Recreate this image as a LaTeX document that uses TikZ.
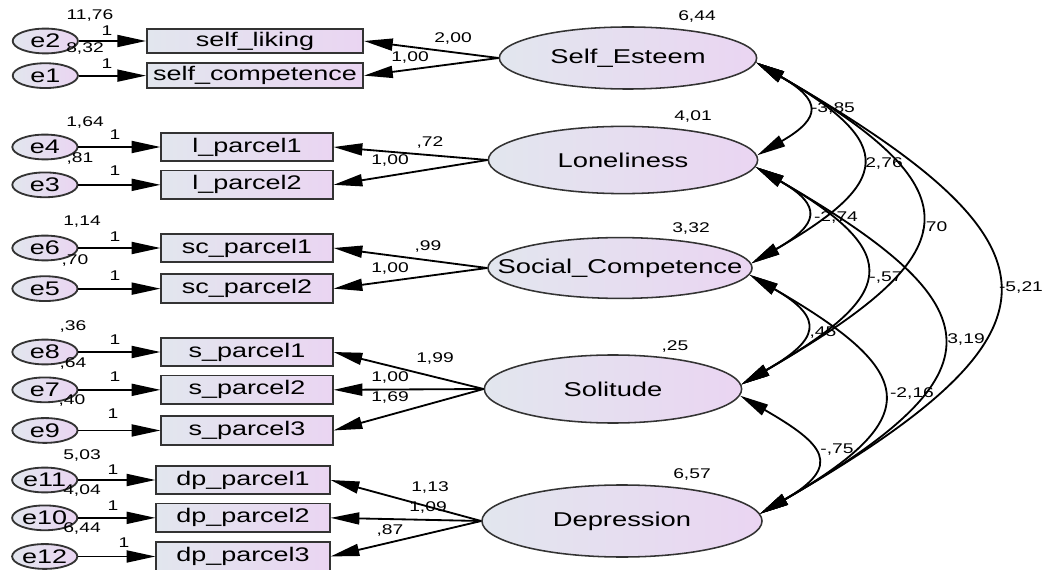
\documentclass[tikz,border=0pt]{standalone}
\usepackage{fontspec}
\setmainfont{Liberation Sans}[FakeStretch=1.37]
\usetikzlibrary{shapes.geometric, arrows.meta, positioning}
\definecolor{fillL}{RGB}{226,230,238}
\definecolor{fillR}{RGB}{234,213,242}

\begin{document}
\begin{tikzpicture}[
    x=0.025cm, y=0.025cm,
    >={Triangle[length=0.72cm, width=0.3cm]},
    box/.style={rectangle, draw=black!80, line width=1.3pt, left color=fillL, right color=fillR, minimum width=4.28cm, minimum height=0.72cm, inner sep=0pt, font=\fontsize{14}{16}\selectfont},
    err/.style={ellipse, draw=black!80, line width=1.3pt, left color=fillL, right color=fillR, minimum width=1.63cm, minimum height=0.62cm, inner sep=0pt, font=\fontsize{14}{16}\selectfont},
    latent/.style={ellipse, draw=black!80, line width=1.1pt, left color=fillL, right color=fillR, minimum width=6.5cm, minimum height=1.6cm, inner sep=0pt},
    lattext/.style={font=\fontsize{14.2}{16}\selectfont},
    num/.style={font=\fontsize{10}{12}\selectfont, inner sep=0pt},
    arrow/.style={->, line width=1.3pt},
    cov/.style={<->, line width=1.3pt, out=-30, in=30, looseness=2.07}
]

\fill[white] (0,0) rectangle (1046,-570);
\useasboundingbox (0,0) rectangle (1046,-570);

\node[latent, minimum width=6.43cm, minimum height=1.55cm, label={[lattext]center:Self\_Esteem}] (SE) at (628,-58) {};
\node[latent, minimum width=6.73cm, minimum height=1.68cm, label={[lattext]center:Loneliness}] (Lon) at (623,-160) {};
\node[latent, minimum width=6.6cm, minimum height=1.52cm, label={[lattext]center:Social\_Competence}] (SC) at (620,-268) {};
\node[latent, minimum width=6.43cm, minimum height=1.7cm, label={[lattext]center:Solitude}] (Sol) at (613,-389) {};
\node[latent, minimum width=7cm, minimum height=1.8cm, label={[lattext]center:Depression}] (Dep) at (622,-521) {};

\node[box, minimum width=5.4cm, minimum height=0.62cm] (sl) at (255,-41) {self\_liking};
\node[box, minimum width=5.4cm, minimum height=0.62cm, below=0.2cm of sl] (scomp) {self\_competence};
\node[box] (lp1) at (247,-147) {l\_parcel1};
\node[box, below=0.18cm of lp1] (lp2) {l\_parcel2};
\node[box] (scp1) at (247,-248) {sc\_parcel1};
\node[box, below=0.25cm of scp1] (scp2) {sc\_parcel2};
\node[box] (sp1) at (247,-352) {s\_parcel1};
\node[box, below=0.18cm of sp1] (sp2) {s\_parcel2};
\node[box, below=0.25cm of sp2] (sp3) {s\_parcel3};
\node[box, minimum width=4.33cm] (dp1) at (243,-480) {dp\_parcel1};
\node[box, minimum width=4.33cm, below=0.18cm of dp1] (dp2) {dp\_parcel2};
\node[box, minimum width=4.33cm, below=0.2cm of dp2] (dp3) {dp\_parcel3};

\node[err, left=1.68cm of sl] (e2) {e2};
\node[err, left=1.68cm of scomp] (e1) {e1};
\node[err, left=2.05cm of lp1] (e4) {e4};
\node[err, left=2.05cm of lp2] (e3) {e3};
\node[err, left=2.05cm of scp1] (e6) {e6};
\node[err, left=2.05cm of scp2] (e5) {e5};
\node[err, left=2.05cm of sp1] (e8) {e8};
\node[err, left=2.05cm of sp2] (e7) {e7};
\node[err, left=2.05cm of sp3] (e9) {e9};
\node[err, left=1.93cm of dp1] (e11) {e11};
\node[err, left=1.93cm of dp2] (e10) {e10};
\node[err, left=1.93cm of dp3] (e12) {e12};

\draw[arrow] (e2) -- (sl);
\draw[arrow] (e1) -- (scomp);
\draw[arrow] (e4) -- (lp1);
\draw[arrow] (e3) -- (lp2);
\draw[arrow] (e6) -- (scp1);
\draw[arrow] (e5) -- (scp2);
\draw[arrow] (e8) -- (sp1);
\draw[arrow] (e7) -- (sp2);
\draw[arrow] (e9) -- (sp3);
\draw[arrow] (e11) -- (dp1);
\draw[arrow] (e10) -- (dp2);
\draw[arrow] (e12) -- (dp3);

\draw[arrow] (SE.west) -- (sl.east);
\draw[arrow] (SE.west) -- (scomp.east);
\draw[arrow] (Lon.west) -- (lp1.east);
\draw[arrow] (Lon.west) -- (lp2.east);
\draw[arrow] (SC.west) -- (scp1.east);
\draw[arrow] (SC.west) -- (scp2.east);
\draw[arrow] (Sol.west) -- (sp1.east);
\draw[arrow] (Sol.west) -- (sp2.east);
\draw[arrow] (Sol.west) -- (sp3.east);
\draw[arrow] (Dep.west) -- (dp1.east);
\draw[arrow] (Dep.west) -- (dp2.east);
\draw[arrow] (Dep.west) -- (dp3.east);

\draw[cov] (SE.-2.5) to (Lon.2.5);
\draw[cov] (SE.-2.5) to (SC.2.7);
\draw[cov] (SE.-2.5) to (Sol.2.7);
\draw[cov] (SE.-2.5) to (Dep.3.7);
\draw[cov] (Lon.-3) to (SC.2.7);
\draw[cov] (Lon.-3) to (Sol.2.7);
\draw[cov] (Lon.-3) to (Dep.3.7);
\draw[cov] (SC.-3) to (Sol.2.7);
\draw[cov] (SC.-3) to (Dep.3.7);
\draw[cov] (Sol.-3.6) to (Dep.3.7);

\node[num] at (90,-15) {11,76};
\node[num] at (107,-31) {1};
\node[num] at (85,-48) {8,32};
\node[num] at (107,-64) {1};
\node[num] at (85,-122) {1,64};
\node[num] at (115,-135) {1};
\node[num] at (80,-158) {,81};
\node[num] at (115,-171) {1};
\node[num] at (82,-222) {1,14};
\node[num] at (115,-237) {1};
\node[num] at (75,-260) {,70};
\node[num] at (115,-276) {1};
\node[num] at (73,-326) {,36};
\node[num] at (115,-340) {1};
\node[num] at (73,-363) {,64};
\node[num] at (115,-377) {1};
\node[num] at (72,-400) {,40};
\node[num] at (113,-414) {1};
\node[num] at (82,-455) {5,03};
\node[num] at (113,-470) {1};
\node[num] at (82,-490) {4,04};
\node[num] at (113,-506) {1};
\node[num] at (82,-528) {6,44};
\node[num] at (124,-543) {1};

\node[num] at (453,-38) {2,00};
\node[num] at (410,-57) {1,00};
\node[num] at (430,-142) {,72};
\node[num] at (390,-160) {1,00};
\node[num] at (428,-246) {,99};
\node[num] at (390,-268) {1,00};
\node[num] at (435,-358) {1,99};
\node[num] at (390,-377) {1,00};
\node[num] at (390,-397) {1,69};
\node[num] at (430,-487) {1,13};
\node[num] at (428,-507) {1,09};
\node[num] at (390,-530) {,87};

\node[num] at (697,-16) {6,44};
\node[num] at (693,-116) {4,01};
\node[num] at (691,-228) {3,32};
\node[num] at (675,-346) {,25};
\node[num] at (692,-474) {6,57};

\node[num] at (833,-108) {-3,85};
\node[num] at (884,-163) {2,76};
\node[num] at (934,-227) {,70};
\node[num] at (1021,-287) {-5,21};
\node[num] at (836,-217) {-2,74};
\node[num] at (886,-278) {-,57};
\node[num] at (966,-339) {3,19};
\node[num] at (823,-333) {,45};
\node[num] at (912,-393) {-2,16};
\node[num] at (837,-450) {-,75};

\end{tikzpicture}
\end{document}
